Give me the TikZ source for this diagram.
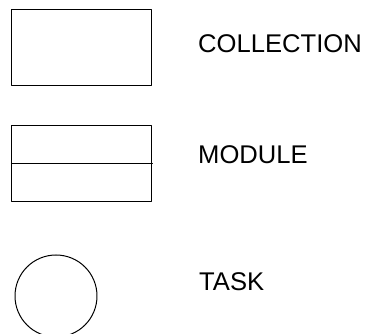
\documentclass[tikz,border=0pt]{standalone}
\usepackage{fontspec}
\setmainfont{Liberation Sans}
\usetikzlibrary{positioning}

\tikzset{
  box/.style={draw, line width=1pt, minimum width=140pt, minimum height=76pt, inner sep=0pt},
  taskshape/.style={draw, circle, line width=1pt, minimum size=82pt, inner sep=0pt},
  legendtext/.style={anchor=west, inner sep=0pt, font=\fontsize{25.6}{30}\selectfont}
}

\begin{document}
\begin{tikzpicture}[line cap=round, line join=round, x=1pt, y=-1pt]
\useasboundingbox (0,0) rectangle (368,334);
% the three symbols
\node[box] (collection) at (82,48) {};
\node[box] (module) at (82,164) {};
\draw[line width=1pt] (module.west) -- (module.east);
\node[taskshape] (task) at (56,296) {};
% their names
\draw (198,44) node[legendtext] (collectionname) {COLLECTION};
\draw (198,155) node[legendtext] (modulename) {MODULE};
\draw (199,282) node[legendtext] (taskname) {TASK};
\end{tikzpicture}
\end{document}
